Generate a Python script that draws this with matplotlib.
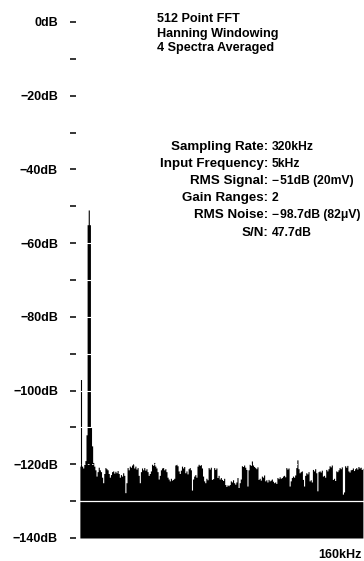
import matplotlib.pyplot as plt
import numpy as np

plt.rcParams['font.family'] = ['Liberation Sans', 'DejaVu Sans']
plt.rcParams['font.weight'] = 'bold'

# averaged FFT magnitude, one value per bin (0 .. 160 kHz, 256 bins)
level_db = np.array([
    -120.5, -97.0, -120.5, -121.0, -120.0, -119.0, -112.0, -55.0,
    -51.0, -55.0, -110.0, -115.0, -119.5, -120.5, -121.5, -123.2,
    -122.0, -120.8, -121.5, -122.0, -123.5, -125.0, -122.5, -120.9,
    -121.2, -121.5, -122.5, -123.5, -122.8, -122.0, -121.8, -122.4,
    -121.9, -122.3, -121.7, -122.5, -123.5, -122.8, -123.2, -122.3,
    -123.0, -127.7, -125.0, -120.9, -121.5, -120.5, -120.8, -120.2,
    -119.8, -121.0, -120.5, -121.3, -120.9, -123.0, -125.0, -122.0,
    -121.0, -121.5, -120.9, -121.6, -121.2, -122.0, -123.0, -122.5,
    -121.8, -120.0, -120.3, -119.5, -120.5, -121.0, -122.0, -124.0,
    -123.0, -121.5, -121.0, -120.9, -121.5, -121.2, -122.0, -123.5,
    -124.0, -124.5, -123.8, -124.3, -124.1, -123.8, -120.2, -120.0,
    -120.4, -121.8, -122.5, -121.6, -120.5, -121.0, -120.6, -122.3,
    -121.8, -122.6, -121.2, -120.9, -121.5, -127.0, -124.0, -123.2,
    -122.8, -123.5, -120.5, -120.0, -120.3, -120.1, -121.0, -123.2,
    -124.5, -125.0, -123.8, -124.2, -120.9, -121.3, -120.8, -124.1,
    -123.9, -120.9, -121.4, -121.0, -123.6, -123.0, -124.0, -123.6,
    -124.1, -124.4, -123.8, -125.5, -126.0, -125.6, -125.8, -125.5,
    -124.5, -124.8, -124.2, -125.0, -125.4, -124.8, -123.6, -126.3,
    -125.0, -124.0, -120.4, -120.6, -120.2, -120.8, -121.4, -125.9,
    -121.5, -120.0, -120.3, -119.1, -120.2, -120.6, -120.9, -121.2,
    -120.7, -124.1, -123.8, -124.3, -123.2, -123.5, -122.9, -124.5,
    -124.2, -124.8, -124.1, -124.5, -124.3, -124.0, -124.6, -125.0,
    -124.8, -125.2, -123.6, -123.9, -123.4, -123.8, -123.6, -123.2,
    -123.0, -123.4, -120.9, -121.3, -121.0, -125.9, -124.5, -123.6,
    -123.2, -123.5, -122.9, -120.9, -118.8, -121.2, -122.3, -122.0,
    -121.8, -124.1, -125.9, -123.0, -122.3, -122.6, -122.0, -124.5,
    -124.2, -124.8, -121.4, -121.8, -121.2, -122.3, -127.2, -122.0,
    -121.8, -122.1, -121.6, -123.2, -123.0, -123.5, -121.4, -121.8,
    -121.2, -120.4, -120.7, -120.2, -124.1, -123.8, -124.4, -121.8,
    -122.0, -121.5, -120.9, -121.2, -120.7, -128.1, -127.5, -120.4,
    -120.8, -120.3, -121.8, -122.1, -121.5, -121.4, -121.0, -121.7,
    -121.2, -120.9, -121.3, -120.6, -121.0, -120.8, -121.4, -121.1,
])
freq_max_khz = 160
freq_khz = np.arange(len(level_db)) * freq_max_khz / len(level_db)

db_floor = -140
db_major = np.arange(-140, 1, 20)
db_minor = np.arange(-130, 0, 20)

title_lines = ["512 Point FFT", "Hanning Windowing", "4 Spectra Averaged"]
info_labels = ["Sampling Rate:", "Input Frequency:", "RMS Signal:",
               "Gain Ranges:", "RMS Noise:", "S/N:"]
info_values = ["320kHz", "5kHz", "\u2212\u200a51dB (20mV)", "2",
               "\u2212\u200a98.7dB (82\u03bcV)", "47.7dB"]

W, H = 364, 561
fig = plt.figure(figsize=(W / 100, H / 100), dpi=100)


def fx(px):
    return px / W


def fy(py):
    return 1 - py / H


ax = fig.add_axes([fx(79), fy(538), (W - 79) / W, (538 - 22) / H])
ax.fill_between(freq_khz, db_floor, level_db, step='mid', color='black',
                lw=0, antialiased=False)

# white reference marks that show through the black trace
ax.axhline(-130, color='white', lw=0.9)
ax.axhline(-120, color='white', lw=0.6, ls=(0, (2, 3)))
ax.hlines(np.arange(-110, -55, 10), freq_khz[0], freq_khz[13],
          color='white', lw=0.8)

ax.set_xlim(freq_khz[0] - 0.5, freq_max_khz)
ax.set_ylim(db_floor, 0)

for s in ax.spines.values():
    s.set_visible(False)
ax.spines['left'].set_position(('outward', 2.2))
ax.set_xticks([])
ax.set_yticks(db_major, ["0dB" if v == 0 else f"\u2212{-v}dB" for v in db_major])
ax.set_yticks(db_minor, minor=True)
ax.tick_params(axis='y', which='both', direction='out', length=4.3, width=1.1,
               pad=8.6, labelsize=9)

for i, line in enumerate(title_lines):
    fig.text(fx(157), fy(18.5 + 15 * i), line, ha='left', va='center',
             fontsize=9.1)

for i, (lab, val) in enumerate(zip(info_labels, info_values)):
    y = fy(147 + 17.1 * i)
    fig.text(fx(268), y, lab, ha='right', va='center', fontsize=9.6)
    fig.text(fx(272), y, val, ha='left', va='center', fontsize=8.7)

fig.text(fx(362), fy(555.5), "160kHz", ha='right', va='center', fontsize=9)

fig.savefig("out.png", dpi=100, facecolor='white')
